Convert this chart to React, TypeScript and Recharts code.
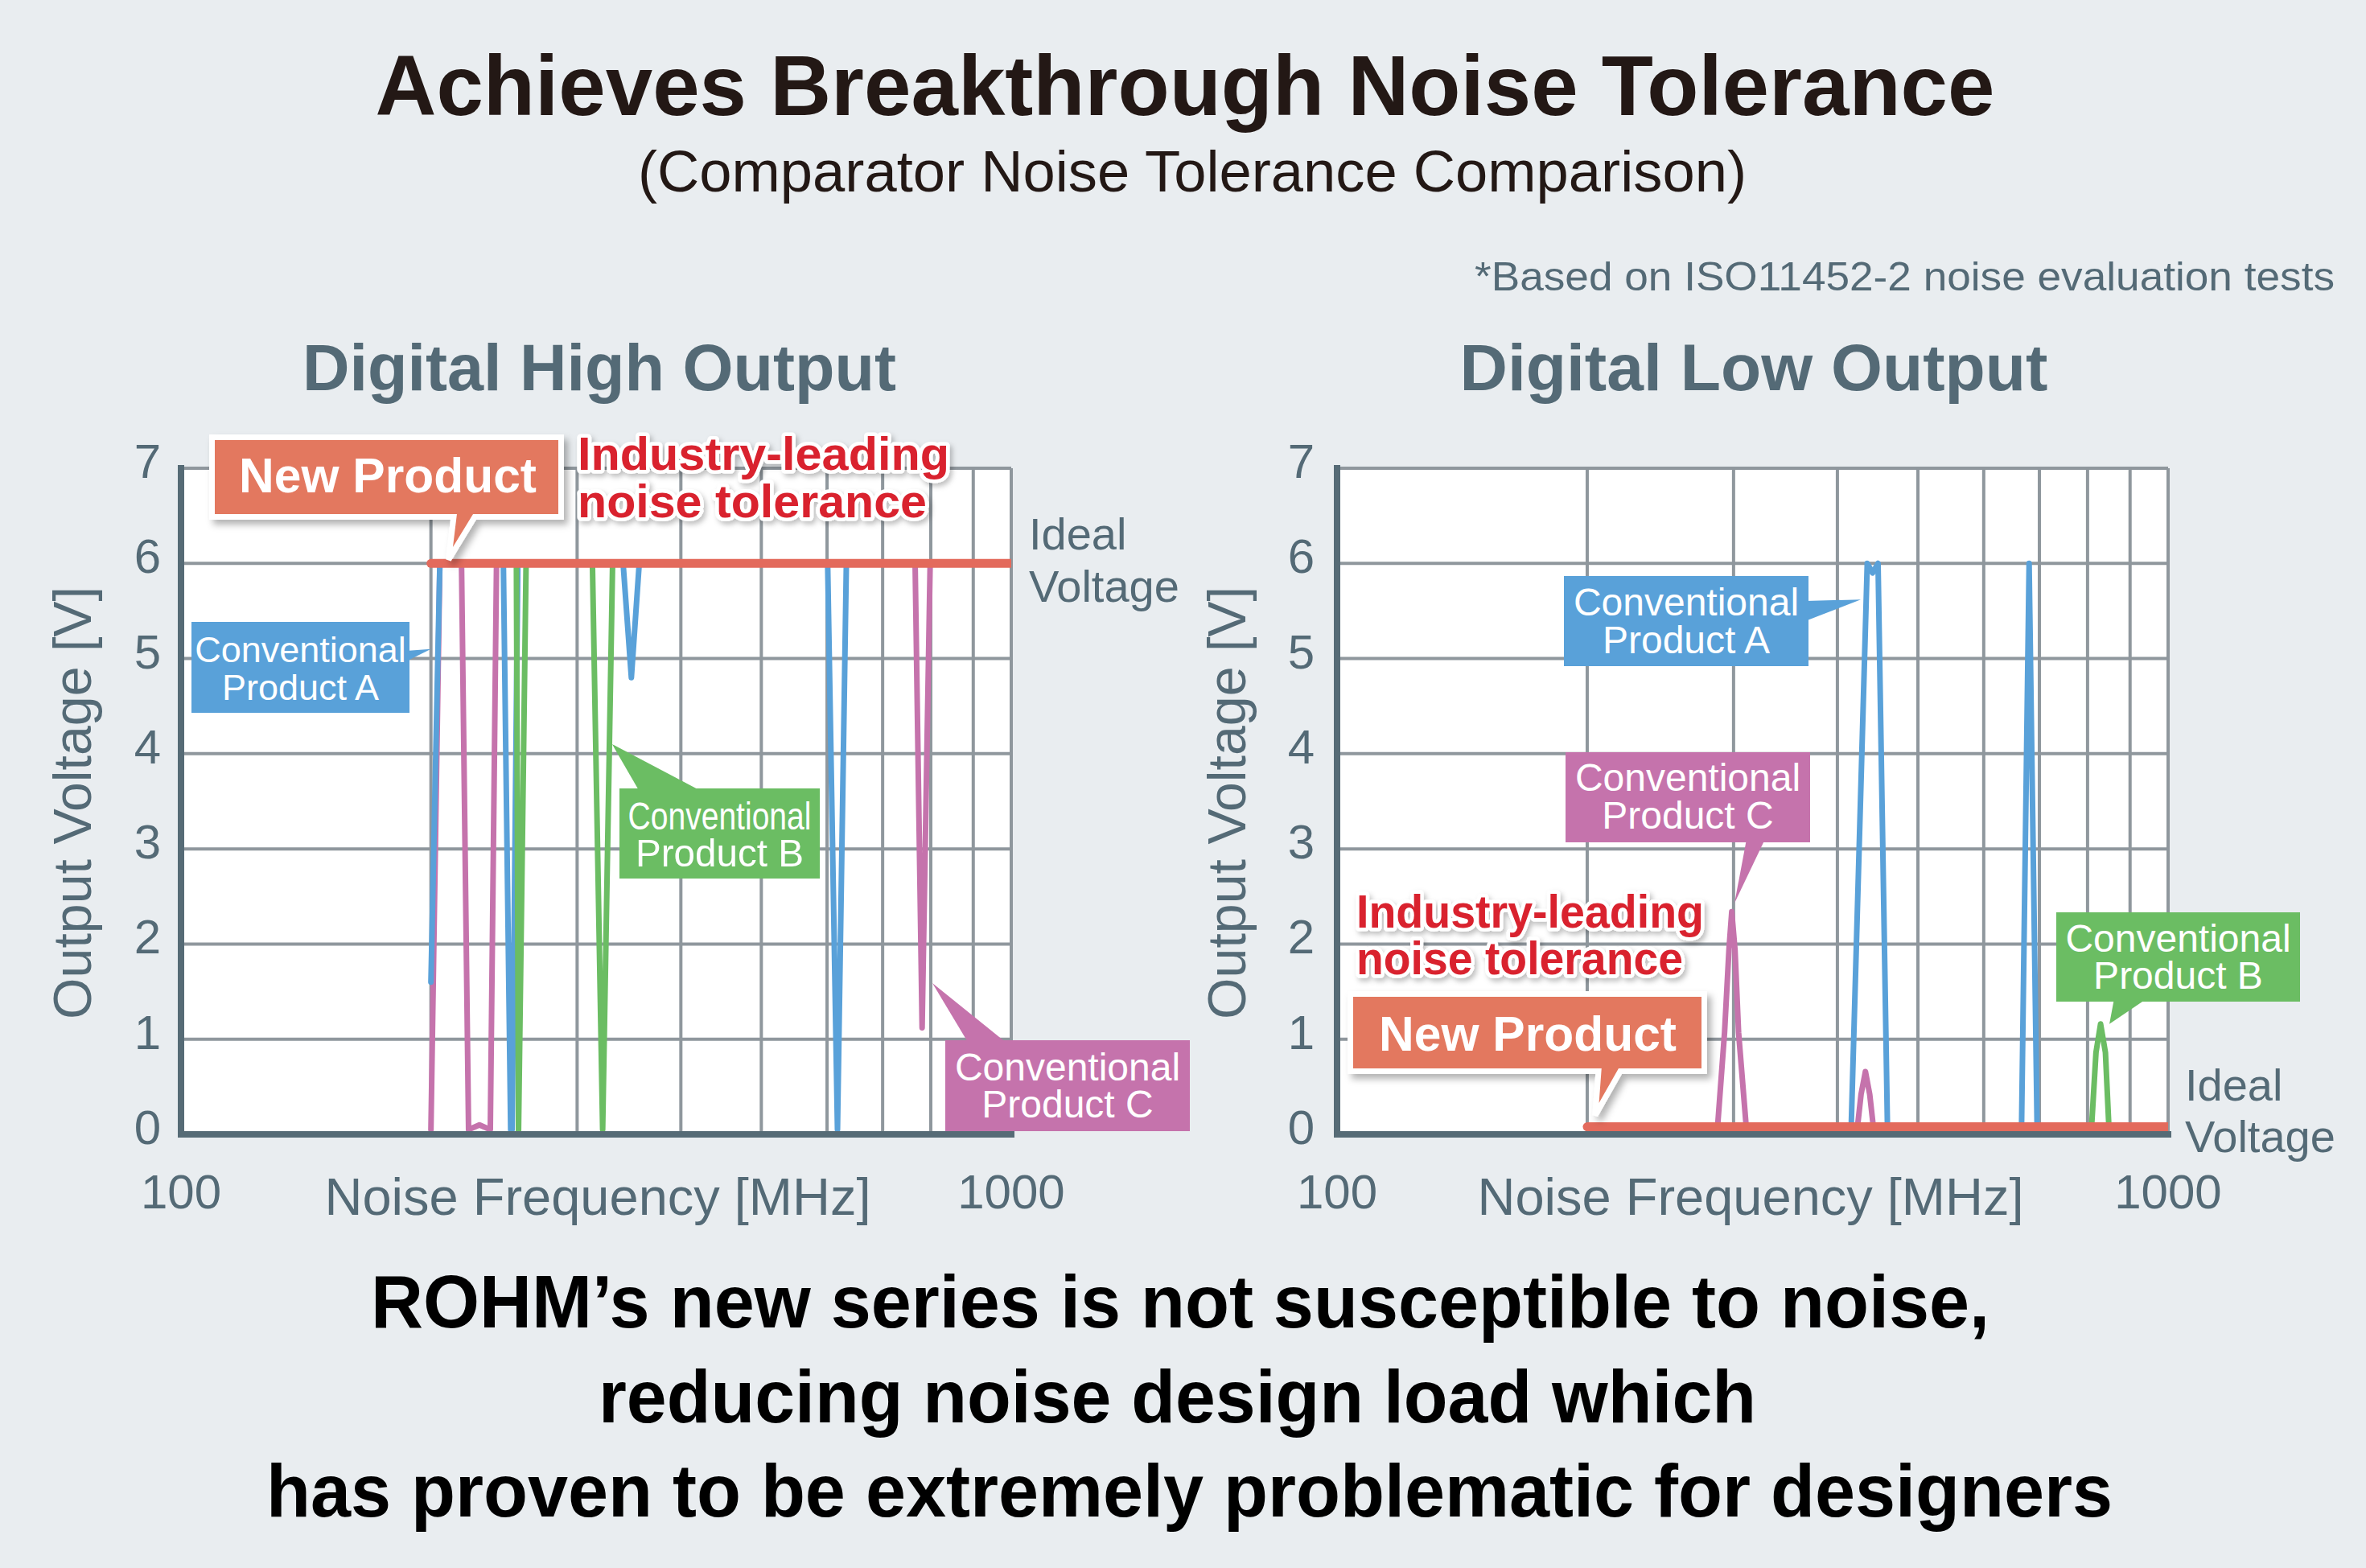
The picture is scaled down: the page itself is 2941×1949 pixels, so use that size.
import { CartesianGrid, Line, LineChart, XAxis, YAxis } from 'recharts'

const PAGE_W = 2941
const PAGE_H = 1949
const FONT = '"Liberation Sans", Arial, Helvetica, sans-serif'

const BG = '#e9edf0'
const SLATE = '#546a76'
const FRAME = '#566b76'
const GRID = '#8f979d'
const RED = '#e36a5c'
const BLUE = '#59a1d9'
const GREEN = '#6bbd63'
const PINK = '#c573ac'
const ORANGE = '#e3785e'
const ALERT = '#d9202d'
const INK = '#231815'

// noise frequency axis (MHz, log) and output voltage axis (V)
const freqTicks = [100, 200, 300, 400, 500, 600, 700, 800, 900, 1000]
const freqLabels = [100, 1000]
const voltTicks = [0, 1, 2, 3, 4, 5, 6, 7]

// Digital High Output, [MHz, V]
const highNew = [[200, 6], [1000, 6]]
const highA = [
  [200, 1.6], [205, 6], [244.5, 6], [249.5, 0.05], [250.5, 0.05], [254.5, 6],
  [340.8, 6], [348.7, 4.8], [356.4, 6], [601, 6], [617.6, 0.05], [633, 6], [1000, 6],
]
const highB = [
  [200, 6], [253.5, 6], [255, 0.03], [260.4, 6], [313, 6], [322, 0.05], [331, 6], [1000, 6],
]
const highC = [
  [200, 0.05], [205, 6], [217.7, 6], [222, 0.05], [228.8, 0.1], [235.8, 0.05], [239.9, 6],
  [766, 6], [781, 1.12], [798.6, 6], [1000, 6],
]

// Digital Low Output, [MHz, V]
const lowNew = [[200, 0.08], [1000, 0.08]]
const lowA = [
  [200, 0.08], [415.6, 0.08], [434.5, 6], [441, 5.9], [447.7, 6], [459.5, 0.08],
  [666.3, 0.08], [680.4, 6], [695.6, 0.08], [1000, 0.08],
]
const lowB = [
  [200, 0.08], [809, 0.08], [818.9, 0.86], [829.4, 1.16], [840.6, 0.86], [848.7, 0.08], [1000, 0.08],
]
const lowC = [
  [200, 0.08], [287, 0.08], [292.6, 1.07], [296.2, 1.94], [298.5, 2.34], [301.2, 1.94],
  [304.2, 1.07], [310.7, 0.08], [422.9, 0.08], [427.1, 0.42], [432.3, 0.66], [437.5, 0.42],
  [441.9, 0.08], [1000, 0.08],
]

const toPts = (rows: number[][]) => rows.map(([f, v]) => ({ f, v }))

const highSeries = [
  { name: 'Conventional Product C', rows: highC, color: PINK, width: 7 },
  { name: 'Conventional Product A', rows: highA, color: BLUE, width: 7 },
  { name: 'Conventional Product B', rows: highB, color: GREEN, width: 7 },
  { name: 'New Product', rows: highNew, color: RED, width: 11 },
]
const lowSeries = [
  { name: 'Conventional Product C', rows: lowC, color: PINK, width: 7 },
  { name: 'Conventional Product A', rows: lowA, color: BLUE, width: 7 },
  { name: 'Conventional Product B', rows: lowB, color: GREEN, width: 7 },
  { name: 'New Product', rows: lowNew, color: RED, width: 11 },
]

// plot boxes on the page
const PLOT_TOP = 582
const PLOT_H = 828
const HIGH = { left: 225, width: 1032, gap: 25 }
const LOW = { left: 1662, width: 1033, gap: 28 }
const CHART_H = 1560

// same mapping as the charts' log / linear scales, for callout tips
const xAt = (p: { left: number; width: number }, f: number) => p.left + p.width * Math.log10(f / 100)
const yAt = (v: number) => PLOT_TOP + PLOT_H * (1 - v / 7)

const frameLine = { stroke: FRAME, strokeWidth: 8, strokeLinecap: 'square' as const }

function NoiseChart({ left, width, plot, series }: any) {
  const freqTick = ({ x, y, payload }: any) =>
    freqLabels.includes(payload.value) ? (
      <text x={x} y={y + 92} textAnchor="middle" fill={SLATE} fontSize={60} fontFamily={FONT}>
        {payload.value}
      </text>
    ) : (
      <g />
    )
  const voltTick = ({ x, y, payload }: any) => (
    <text x={x} y={y + 12} textAnchor="end" fill={SLATE} fontSize={60} fontFamily={FONT}>
      {payload.value}
    </text>
  )

  return (
    <div style={{ position: 'absolute', left, top: 0 }}>
      <LineChart
        width={width}
        height={CHART_H}
        margin={{
          top: PLOT_TOP,
          left: plot.left - left - 100,
          right: left + width - plot.left - plot.width,
          bottom: CHART_H - PLOT_TOP - PLOT_H - 80,
        }}
      >
        <CartesianGrid stroke={GRID} strokeWidth={4} fill="#ffffff" fillOpacity={1} />
        <XAxis
          dataKey="f"
          type="number"
          scale="log"
          domain={[100, 1000]}
          allowDataOverflow
          ticks={freqTicks}
          interval={0}
          height={80}
          tickSize={0}
          tickMargin={0}
          tickLine={false}
          axisLine={frameLine}
          tick={freqTick}
        />
        <XAxis
          xAxisId="top"
          orientation="top"
          type="number"
          scale="log"
          domain={[100, 1000]}
          allowDataOverflow
          height={0}
          tick={false}
          tickLine={false}
          axisLine={frameLine}
        />
        <YAxis
          type="number"
          domain={[0, 7]}
          allowDataOverflow
          ticks={voltTicks}
          interval={0}
          width={100}
          tickSize={0}
          tickMargin={plot.gap}
          tickLine={false}
          axisLine={frameLine}
          tick={voltTick}
        />
        <YAxis
          yAxisId="right"
          orientation="right"
          type="number"
          domain={[0, 7]}
          width={0}
          tick={false}
          tickLine={false}
          axisLine={frameLine}
        />
        {series.map((s: any) => (
          <Line
            key={s.name}
            name={s.name}
            data={toPts(s.rows)}
            dataKey="v"
            type="linear"
            stroke={s.color}
            strokeWidth={s.width}
            strokeLinecap="round"
            strokeLinejoin="round"
            dot={false}
            activeDot={false}
            isAnimationActive={false}
          />
        ))}
      </LineChart>
    </div>
  )
}

function Txt({ x, y, size, children, weight = 400, fill = SLATE, anchor = 'middle', len }: any) {
  return (
    <text
      x={x}
      y={y}
      fontSize={size}
      fontWeight={weight}
      fill={fill}
      textAnchor={anchor}
      fontFamily={FONT}
      textLength={len}
      lengthAdjust={len ? 'spacingAndGlyphs' : undefined}
    >
      {children}
    </text>
  )
}

function Flag({ box, fill, base, tip, cx, rows }: any) {
  const [x, y, w, h] = box
  return (
    <g>
      <polygon points={`${base[0]},${base[1]} ${base[2]},${base[3]} ${tip[0]},${tip[1]}`} fill={fill} />
      <rect x={x} y={y} width={w} height={h} fill={fill} />
      {rows.map((r: any) => (
        <Txt key={r.t} x={cx} y={r.y} size={r.fs} fill="#fff" len={r.len}>
          {r.t}
        </Txt>
      ))}
    </g>
  )
}

function NewTag({ x, y, w, h, baseL, baseR, tip, tx, ty }: any) {
  const d = `M${x},${y} H${x + w} V${y + h} H${baseR} L${tip[0]},${tip[1]} L${baseL},${y + h} H${x} Z`
  return (
    <g>
      <path d={d} fill={ORANGE} stroke="#fff" strokeWidth={7} filter="url(#tagShadow)" />
      <Txt x={tx} y={ty} size={61} weight={700} fill="#fff" anchor="start" len={370}>
        New Product
      </Txt>
    </g>
  )
}

function Claim({ x, y1, y2, len1, len2 }: any) {
  const style = {
    paintOrder: 'stroke' as const,
    stroke: '#fff',
    strokeWidth: 9,
    strokeLinejoin: 'round' as const,
  }
  return (
    <g filter="url(#textShadow)" style={style}>
      <Txt x={x} y={y1} size={57} weight={700} fill={ALERT} anchor="start" len={len1}>
        Industry-leading
      </Txt>
      <Txt x={x} y={y2} size={57} weight={700} fill={ALERT} anchor="start" len={len2}>
        noise tolerance
      </Txt>
    </g>
  )
}

function Overlay() {
  return (
    <svg
      width={PAGE_W}
      height={PAGE_H}
      style={{ position: 'absolute', left: 0, top: 0, pointerEvents: 'none' }}
    >
      <defs>
        <filter id="tagShadow" x="-10%" y="-20%" width="125%" height="150%">
          <feDropShadow dx="5" dy="6" stdDeviation="4" floodColor="#000" floodOpacity="0.3" />
        </filter>
        <filter id="textShadow" x="-5%" y="-20%" width="115%" height="150%">
          <feDropShadow dx="3" dy="4" stdDeviation="3" floodColor="#000" floodOpacity="0.25" />
        </filter>
      </defs>

      <Txt x={1473} y={143} size={106} weight={700} fill={INK} len={2013}>
        Achieves Breakthrough Noise Tolerance
      </Txt>
      <Txt x={1482} y={238} size={73} fill={INK} len={1378}>
        (Comparator Noise Tolerance Comparison)
      </Txt>
      <Txt x={2902} y={361} size={50} anchor="end" len={1069}>
        *Based on ISO11452-2 noise evaluation tests
      </Txt>

      <Txt x={745} y={485} size={82} weight={700} len={738}>
        Digital High Output
      </Txt>
      <Txt x={2180} y={485} size={82} weight={700} len={731}>
        Digital Low Output
      </Txt>

      <Txt x={743} y={1510} size={65} len={679}>
        Noise Frequency [MHz]
      </Txt>
      <Txt x={2176} y={1510} size={65} len={679}>
        Noise Frequency [MHz]
      </Txt>
      <g transform="translate(113,998) rotate(-90)">
        <Txt x={0} y={0} size={66} len={538}>
          Output Voltage [V]
        </Txt>
      </g>
      <g transform="translate(1548,998) rotate(-90)">
        <Txt x={0} y={0} size={66} len={538}>
          Output Voltage [V]
        </Txt>
      </g>

      <Txt x={1279} y={683} size={56} anchor="start">Ideal</Txt>
      <Txt x={1279} y={748} size={56} anchor="start">Voltage</Txt>
      <Txt x={2716} y={1368} size={56} anchor="start">Ideal</Txt>
      <Txt x={2716} y={1432} size={56} anchor="start">Voltage</Txt>

      {/* Digital High Output callouts */}
      <Flag
        box={[238, 773, 271, 113]}
        fill={BLUE}
        base={[505, 809, 505, 822]}
        tip={[xAt(HIGH, 200), yAt(5.1)]}
        cx={373.5}
        rows={[
          { t: 'Conventional', y: 823, fs: 45 },
          { t: 'Product A', y: 870, fs: 45 },
        ]}
      />
      <Flag
        box={[770, 980, 249, 112]}
        fill={GREEN}
        base={[795, 984, 873, 984]}
        tip={[xAt(HIGH, 330.6), yAt(4.1)]}
        cx={894.5}
        rows={[
          { t: 'Conventional', y: 1031, fs: 49, len: 228 },
          { t: 'Product B', y: 1077, fs: 49, len: 209 },
        ]}
      />
      <Flag
        box={[1175, 1293, 304, 113]}
        fill={PINK}
        base={[1204, 1297, 1252, 1297]}
        tip={[xAt(HIGH, 803.6), yAt(1.59)]}
        cx={1327}
        rows={[
          { t: 'Conventional', y: 1343, fs: 48 },
          { t: 'Product C', y: 1389, fs: 48 },
        ]}
      />
      <Claim x={718} y1={584} y2={643} len1={462} len2={434} />
      <NewTag
        x={263.5}
        y={543.5}
        w={434}
        h={99}
        baseL={564}
        baseR={590}
        tip={[xAt(HIGH, 210), yAt(6.04)]}
        tx={297}
        ty={612}
      />

      {/* Digital Low Output callouts */}
      <Flag
        box={[1944, 716, 304, 112]}
        fill={BLUE}
        base={[2244, 747, 2244, 772]}
        tip={[xAt(LOW, 426.8), yAt(5.62)]}
        cx={2096}
        rows={[
          { t: 'Conventional', y: 765, fs: 48 },
          { t: 'Product A', y: 812, fs: 48 },
        ]}
      />
      <Flag
        box={[1946, 935, 304, 112]}
        fill={PINK}
        base={[2171, 1043, 2194, 1043]}
        tip={[xAt(LOW, 300.8), yAt(2.43)]}
        cx={2098}
        rows={[
          { t: 'Conventional', y: 983, fs: 48 },
          { t: 'Product C', y: 1030, fs: 48 },
        ]}
      />
      <Flag
        box={[2556, 1134, 303, 111]}
        fill={GREEN}
        base={[2628, 1241, 2669, 1241]}
        tip={[xAt(LOW, 849.9), yAt(1.16)]}
        cx={2707.5}
        rows={[
          { t: 'Conventional', y: 1183, fs: 48 },
          { t: 'Product B', y: 1229, fs: 48 },
        ]}
      />
      <Claim x={1686} y1={1153} y2={1211} len1={432} len2={406} />
      <NewTag
        x={1678.5}
        y={1235.5}
        w={440}
        h={96}
        baseL={1987}
        baseR={2014}
        tip={[xAt(LOW, 204.5), yAt(0.2)]}
        tx={1714}
        ty={1306}
      />

      <Txt x={1467} y={1650} size={93} weight={700} fill="#000" len={2012}>
        ROHM’s new series is not susceptible to noise,
      </Txt>
      <Txt x={1463.5} y={1768} size={93} weight={700} fill="#000" len={1439}>
        reducing noise design load which
      </Txt>
      <Txt x={1478.5} y={1885} size={93} weight={700} fill="#000" len={2295}>
        has proven to be extremely problematic for designers
      </Txt>
    </svg>
  )
}

export default function App() {
  return (
    <div
      style={{
        position: 'relative',
        width: PAGE_W,
        height: PAGE_H,
        background: BG,
        fontFamily: FONT,
        overflow: 'hidden',
      }}
    >
      <style>{'body{margin:0}'}</style>
      <NoiseChart left={0} width={1480} plot={HIGH} series={highSeries} />
      <NoiseChart left={1460} width={1481} plot={LOW} series={lowSeries} />
      <Overlay />
    </div>
  )
}
